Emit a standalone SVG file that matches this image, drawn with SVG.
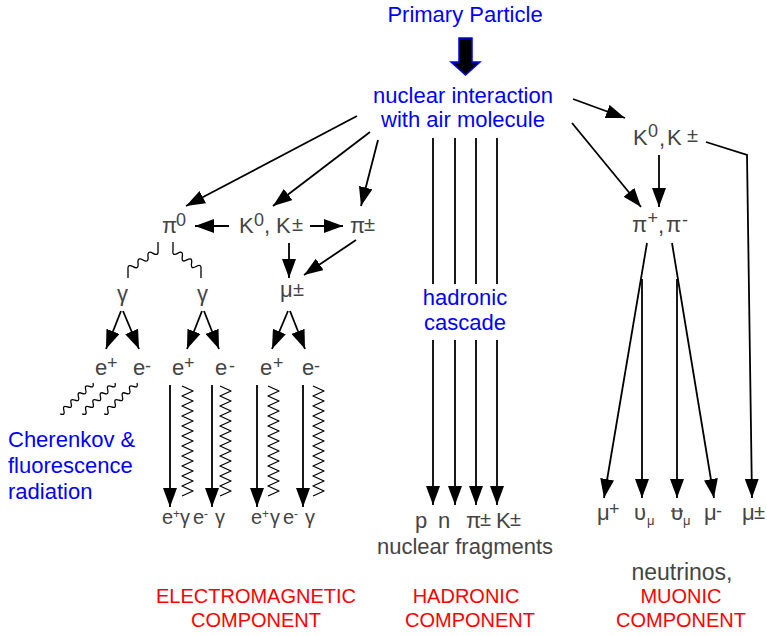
<svg xmlns="http://www.w3.org/2000/svg" width="767" height="636" viewBox="0 0 767 636">
<defs>
<marker id="ah" markerUnits="userSpaceOnUse" markerWidth="20" markerHeight="14" refX="19" refY="7" orient="auto" viewBox="0 0 20 14"><path d="M0,0 L19,7 L0,14 Z" fill="#000"/></marker>
</defs>
<style>
text { font-family: "Liberation Sans", Arial, sans-serif; }
.t { font-size: 22px; fill: #444; }
.t2 { font-size: 20px; fill: #444; }
.sp { font-size: 18px; fill: #444; }
.pm { font-size: 20px; fill: #444; }
.ss { font-size: 12px; fill: #444; }
.sb { font-size: 13px; fill: #444; }
.b { font-size: 22px; fill: #0000ff; }
.r { font-size: 20px; fill: #ff0000; }
.m { text-anchor: middle; }
.ln line, .ln polyline { stroke: #000; stroke-width: 1.8; fill: none; }
.ar { marker-end: url(#ah); }
.wv { stroke: #000; stroke-width: 1.3; fill: none; stroke-linejoin: round; }
</style>
<rect width="767" height="636" fill="#fff"/>

<g id="primary"><text class="b m" x="465" y="22">Primary Particle</text></g>
<g id="bigArrow"><polygon points="459,38 472,38 472,62 480,62 465.5,75 451,62 459,62" fill="#000" stroke="#0000ff" stroke-width="1.5"/></g>
<g id="nuclear"><text class="b m" x="463" y="103">nuclear interaction</text><text class="b m" x="463" y="127">with air molecule</text></g>

<g id="pi0"><text class="t" x="162" y="233">π</text><text class="sp" x="176" y="226">0</text></g>
<g id="kaonsL"><text class="t" x="239" y="233">K</text><text class="sp" x="254" y="226">0</text><text class="t" x="264" y="233">,</text><text class="t" x="276" y="233">K</text><text class="pm" x="292" y="231">±</text></g>
<g id="piPmL"><text class="t" x="350" y="233">π</text><text class="pm" x="364" y="231">±</text></g>
<g id="muL"><text class="t" x="280" y="297">μ</text><text class="pm" x="293" y="296">±</text></g>
<g id="gammaL"><text class="t" x="117" y="301">γ</text></g>
<g id="gammaR"><text class="t" x="197" y="301">γ</text></g>

<g id="eRow">
<text class="t" x="95" y="375">e</text><text class="sp" x="107" y="369">+</text>
<text class="t" x="133" y="375">e</text><text class="sp" x="145" y="372">-</text>
<text class="t" x="172" y="375">e</text><text class="sp" x="184" y="369">+</text>
<text class="t" x="215" y="375">e</text><text class="sp" x="229" y="372">-</text>
<text class="t" x="260" y="375">e</text><text class="sp" x="273" y="369">+</text>
<text class="t" x="302" y="375">e</text><text class="sp" x="314" y="372">-</text>
</g>
<g id="emBottom">
<text class="t2" x="162" y="524">e</text><text class="ss" x="173" y="518">+</text><text class="t2" x="180" y="524">γ</text>
<text class="t2" x="193" y="524">e</text><text class="ss" x="204" y="518">-</text><text class="t2" x="215" y="524">γ</text>
<text class="t2" x="251" y="524">e</text><text class="ss" x="262" y="518">+</text><text class="t2" x="270" y="524">γ</text>
<text class="t2" x="283" y="524">e</text><text class="ss" x="294" y="518">-</text><text class="t2" x="305" y="524">γ</text>
</g>
<g id="cherenkov"><text class="b" x="8" y="447">Cherenkov &amp;</text><text class="b" x="8" y="473">fluorescence</text><text class="b" x="8" y="499">radiation</text></g>

<g id="hadronicCascade"><text class="b m" x="465" y="305">hadronic</text><text class="b m" x="465" y="330">cascade</text></g>
<g id="hadronProducts"><text class="t" x="415" y="528">p</text><text class="t" x="438" y="528">n</text><text class="t" x="466" y="528">π</text><text class="pm" x="480" y="526">±</text><text class="t" x="496" y="528">K</text><text class="pm" x="510" y="526">±</text></g>
<g id="fragments"><text class="t m" x="465" y="554">nuclear fragments</text></g>

<g id="kaonsR"><text class="t" x="633" y="145">K</text><text class="sp" x="648" y="137">0</text><text class="t" x="659" y="146">,</text><text class="t" x="667" y="145">K</text><text class="pm" x="687" y="142">±</text></g>
<g id="pionsR"><text class="t" x="632" y="232">π</text><text class="sp" x="647.5" y="224">+</text><text class="t" x="658" y="233">,</text><text class="t" x="666" y="232">π</text><text class="sp" x="682" y="226">-</text></g>
<g id="muonProducts">
<text class="t" x="597" y="520">μ</text><text class="sp" x="609" y="515">+</text>
<text class="t" x="634" y="520">υ</text><text class="sb" x="647" y="525">μ</text>
<text class="t" x="671" y="520">υ</text><line x1="671" y1="511" x2="683" y2="511" stroke="#444" stroke-width="1.3"/><text class="sb" x="683" y="525">μ</text>
<text class="t" x="704" y="520">μ</text><text class="sp" x="716" y="517">-</text>
<text class="t" x="742" y="520">μ</text><text class="pm" x="754" y="519">±</text>
</g>

<g id="labelEM"><text class="r m" x="256" y="603">ELECTROMAGNETIC</text><text class="r m" x="256" y="627">COMPONENT</text></g>
<g id="labelHad"><text class="r m" x="466" y="603">HADRONIC</text><text class="r m" x="470" y="627">COMPONENT</text></g>
<g id="labelMu"><text class="t m" x="682" y="580" style="font-size:23px">neutrinos,</text><text class="r m" x="681" y="603">MUONIC</text><text class="r m" x="681" y="627">COMPONENT</text></g>

<g id="connectors" class="ln">
<line class="ar" x1="357" y1="116" x2="186" y2="206"/>
<line class="ar" x1="370" y1="132" x2="273" y2="206"/>
<line class="ar" x1="378" y1="140" x2="361" y2="206"/>
<line class="ar" x1="229" y1="226" x2="195" y2="226"/>
<line class="ar" x1="310" y1="226" x2="343" y2="226"/>
<line class="ar" x1="289" y1="243" x2="289" y2="278"/>
<line class="ar" x1="356" y1="240" x2="304" y2="275"/>
<line class="ar" x1="121" y1="311" x2="106" y2="349"/>
<line class="ar" x1="123" y1="311" x2="139" y2="349"/>
<line class="ar" x1="202" y1="311" x2="187" y2="349"/>
<line class="ar" x1="204" y1="311" x2="219" y2="349"/>
<line class="ar" x1="288" y1="311" x2="272" y2="349"/>
<line class="ar" x1="290" y1="311" x2="305" y2="349"/>
<line class="ar" x1="170" y1="385" x2="170" y2="507"/>
<line class="ar" x1="212" y1="385" x2="212" y2="507"/>
<line class="ar" x1="257" y1="385" x2="257" y2="507"/>
<line class="ar" x1="303" y1="385" x2="303" y2="507"/>
<line x1="433" y1="138" x2="433" y2="284"/>
<line x1="455" y1="138" x2="455" y2="284"/>
<line x1="476" y1="138" x2="476" y2="284"/>
<line x1="497" y1="138" x2="497" y2="284"/>
<line class="ar" x1="433" y1="340" x2="433" y2="505"/>
<line class="ar" x1="455" y1="340" x2="455" y2="505"/>
<line class="ar" x1="476" y1="340" x2="476" y2="505"/>
<line class="ar" x1="497" y1="340" x2="497" y2="505"/>
<line class="ar" x1="573" y1="99" x2="625" y2="118"/>
<line class="ar" x1="572" y1="123" x2="641" y2="207"/>
<line class="ar" x1="659" y1="155" x2="659" y2="207"/>
<polyline class="ar" points="706,142 747,155 752,498"/>
<line class="ar" x1="647" y1="243" x2="604" y2="498"/>
<line class="ar" x1="642" y1="279" x2="642" y2="498"/>
<line class="ar" x1="677" y1="279" x2="677" y2="498"/>
<line class="ar" x1="672" y1="243" x2="714" y2="498"/>
</g>

<g id="photonWaves" class="wv">
<path d="M158,242 L158,250"/>
<path transform="translate(158,250) rotate(146.3)" d="M0,0 q3,-6 6,0 t6,0 t6,0 t6,0 t6,0 t6,0"/>
<path d="M128,270 L128,278"/>
<path d="M173,242 L173,250"/>
<path transform="translate(173,250) rotate(35.5)" d="M0,0 q2.9,6 5.7,0 t5.7,0 t5.7,0 t5.7,0 t5.7,0 t5.7,0"/>
<path d="M201,270 L201,278"/>
<path d="M182,386 l11,5 l-11,5 l11,5 l-11,5 l11,5 l-11,5 l11,5 l-11,5 l11,5 l-11,5 l11,5 l-11,5 l11,5 l-11,5 l11,5 l-11,5 l11,5 l-11,5 l11,5 l-11,5 l11,5 l-11,5"/>
<path d="M220,386 l11,5 l-11,5 l11,5 l-11,5 l11,5 l-11,5 l11,5 l-11,5 l11,5 l-11,5 l11,5 l-11,5 l11,5 l-11,5 l11,5 l-11,5 l11,5 l-11,5 l11,5 l-11,5 l11,5 l-11,5"/>
<path d="M268,386 l11,5 l-11,5 l11,5 l-11,5 l11,5 l-11,5 l11,5 l-11,5 l11,5 l-11,5 l11,5 l-11,5 l11,5 l-11,5 l11,5 l-11,5 l11,5 l-11,5 l11,5 l-11,5 l11,5 l-11,5"/>
<path d="M313,386 l11,5 l-11,5 l11,5 l-11,5 l11,5 l-11,5 l11,5 l-11,5 l11,5 l-11,5 l11,5 l-11,5 l11,5 l-11,5 l11,5 l-11,5 l11,5 l-11,5 l11,5 l-11,5 l11,5 l-11,5"/>
<path transform="translate(93,383) rotate(136.8)" d="M0,0 q2.5,-5 5,0 t5,0 t5,0 t5,0 t5,0 t5,0 t5,0 t5,0 t5,0"/>
<path transform="translate(115,383) rotate(136.8)" d="M0,0 q2.5,-5 5,0 t5,0 t5,0 t5,0 t5,0 t5,0 t5,0 t5,0 t5,0"/>
<path transform="translate(137,383) rotate(136.8)" d="M0,0 q2.5,-5 5,0 t5,0 t5,0 t5,0 t5,0 t5,0 t5,0 t5,0 t5,0"/>
</g>
</svg>
